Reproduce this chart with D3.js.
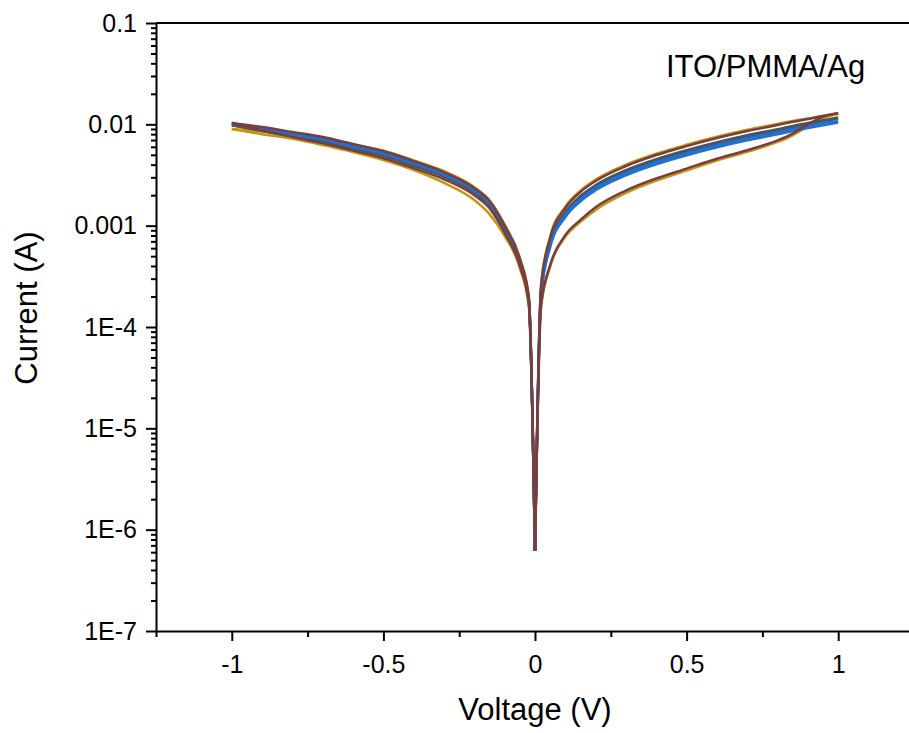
<!DOCTYPE html>
<html lang="en">
<head>
    <meta charset="UTF-8">
    <title>ITO/PMMA/Ag I-V</title>
    <script src="https://d3js.org/d3.v7.min.js"></script>
    <style>
        body { margin: 0; background: #fff; }
        svg { display: block; font-family: "Liberation Sans", Arial, sans-serif; }
        .axis path, .axis line { stroke: #000; stroke-width: 2; }
        .axis text { font-family: "Liberation Sans", Arial, sans-serif; font-size: 25px; fill: #000; }
    </style>
</head>
<body>
<svg id="chart" width="909" height="733"></svg>
<script>
    // voltage grids (V)
    const voltsPos = [0, 0.02, 0.05, 0.1, 0.15, 0.2, 0.3, 0.4, 0.5, 0.6, 0.7, 0.8, 0.85, 0.9, 0.95, 1];
    const voltsNeg = [0, -0.02, -0.05, -0.1, -0.15, -0.2, -0.3, -0.4, -0.5, -0.6, -0.7, -0.8, -0.9, -1];

    // |current| (A)
    const goldPosUp   = [6.2e-7, 2.6e-4, 7.8e-4, 1.54e-3, 2.22e-3, 2.85e-3, 4.0e-3, 5.13e-3, 6.28e-3, 7.54e-3, 8.85e-3, 1.01e-2, 1.08e-2, 1.14e-2, 1.21e-2, 1.27e-2];
    const goldPosDown = [6.2e-7, 1.57e-4, 3.92e-4, 7.75e-4, 1.09e-3, 1.43e-3, 2.1e-3, 2.78e-3, 3.5e-3, 4.4e-3, 5.35e-3, 6.7e-3, 7.8e-3, 9.6e-3, 1.15e-2, 1.27e-2];
    const grayPosUp   = [6.2e-7, 2.3e-4, 6.87e-4, 1.36e-3, 1.96e-3, 2.51e-3, 3.53e-3, 4.53e-3, 5.55e-3, 6.66e-3, 7.82e-3, 8.95e-3, 9.65e-3, 1.03e-2, 1.1e-2, 1.17e-2];
    const grayPosDown = [6.2e-7, 2.2e-4, 6.6e-4, 1.31e-3, 1.89e-3, 2.43e-3, 3.41e-3, 4.38e-3, 5.37e-3, 6.44e-3, 7.56e-3, 8.66e-3, 9.33e-3, 9.94e-3, 1.06e-2, 1.14e-2];
    const bluePosUp   = [6.2e-7, 2.15e-4, 6.4e-4, 1.27e-3, 1.83e-3, 2.35e-3, 3.3e-3, 4.23e-3, 5.19e-3, 6.22e-3, 7.3e-3, 8.36e-3, 9.0e-3, 9.6e-3, 1.03e-2, 1.07e-2];
    const bluePosDown = [6.2e-7, 2.05e-4, 6.1e-4, 1.21e-3, 1.74e-3, 2.24e-3, 3.14e-3, 4.03e-3, 4.94e-3, 5.93e-3, 6.96e-3, 7.97e-3, 8.6e-3, 9.2e-3, 9.8e-3, 1.04e-2];
    const brownPosUp   = [6.2e-7, 2.53e-4, 7.55e-4, 1.49e-3, 2.15e-3, 2.76e-3, 3.88e-3, 4.98e-3, 6.1e-3, 7.32e-3, 8.59e-3, 9.84e-3, 1.06e-2, 1.13e-2, 1.21e-2, 1.29e-2];
    const brownPosDown = [6.2e-7, 1.64e-4, 4.08e-4, 8.07e-4, 1.14e-3, 1.52e-3, 2.22e-3, 2.92e-3, 3.66e-3, 4.58e-3, 5.55e-3, 6.95e-3, 8.1e-3, 1.0e-2, 1.19e-2, 1.29e-2];

    const goldNegUp   = [6.2e-7, 1.95e-4, 4.8e-4, 1.02e-3, 1.78e-3, 2.4e-3, 3.45e-3, 4.4e-3, 5.5e-3, 6.3e-3, 7.2e-3, 7.9e-3, 8.5e-3, 9.0e-3];
    const goldNegDown = [6.2e-7, 1.54e-4, 3.81e-4, 7.9e-4, 1.3e-3, 1.79e-3, 2.64e-3, 3.54e-3, 4.44e-3, 5.33e-3, 6.25e-3, 7.2e-3, 8.0e-3, 9.0e-3];
    const grayNegUp   = [6.2e-7, 1.75e-4, 4.35e-4, 9.2e-4, 1.62e-3, 2.18e-3, 3.14e-3, 4.03e-3, 5.07e-3, 5.95e-3, 6.98e-3, 7.8e-3, 8.75e-3, 9.8e-3];
    const grayNegDown = [6.2e-7, 1.7e-4, 4.2e-4, 8.9e-4, 1.58e-3, 2.12e-3, 3.04e-3, 3.9e-3, 4.9e-3, 5.76e-3, 6.75e-3, 7.6e-3, 8.6e-3, 9.8e-3];
    const blueNegUp   = [6.2e-7, 1.82e-4, 4.5e-4, 9.6e-4, 1.68e-3, 2.26e-3, 3.24e-3, 4.17e-3, 5.23e-3, 6.14e-3, 7.2e-3, 8.06e-3, 9.0e-3, 1.03e-2];
    const blueNegDown = [6.2e-7, 1.78e-4, 4.4e-4, 9.4e-4, 1.65e-3, 2.21e-3, 3.18e-3, 4.08e-3, 5.12e-3, 6.0e-3, 7.05e-3, 7.9e-3, 8.85e-3, 1.02e-2];
    const brownNegUp   = [6.2e-7, 1.9e-4, 4.7e-4, 1.0e-3, 1.75e-3, 2.35e-3, 3.38e-3, 4.34e-3, 5.45e-3, 6.4e-3, 7.5e-3, 8.4e-3, 9.4e-3, 1.03e-2];
    const brownNegDown = [6.2e-7, 1.7e-4, 4.0e-4, 8.5e-4, 1.49e-3, 2.0e-3, 2.87e-3, 3.69e-3, 4.63e-3, 5.5e-3, 6.5e-3, 7.5e-3, 8.7e-3, 1.03e-2];

    // axis ticks
    const xMajor = [-1, -0.5, 0, 0.5, 1];
    const xLabels = ["-1", "-0.5", "0", "0.5", "1"];
    const xMinor = [-1.25, -0.75, -0.25, 0.25, 0.75, 1.25];
    const yMajor = [1e-7, 1e-6, 1e-5, 1e-4, 1e-3, 1e-2, 1e-1];
    const yLabels = ["1E-7", "1E-6", "1E-5", "1E-4", "0.001", "0.01", "0.1"];

    const sweeps = [
        { color: "#c8960e", pos: [goldPosUp, goldPosDown], neg: [goldNegUp, goldNegDown] },
        { color: "#4c5655", pos: [grayPosUp, grayPosDown], neg: [grayNegUp, grayNegDown] },
        { color: "#1f6fd4", pos: [bluePosUp, bluePosDown], neg: [blueNegUp, blueNegDown] },
        { color: "#7a3d3f", pos: [brownPosUp, brownPosDown], neg: [brownNegUp, brownNegDown] }
    ];

    const svg = d3.select("#chart");
    const plotLeft = 156, plotTop = 23, plotBottom = 631;

    const x = d3.scaleLinear().domain([-1.25, 1.25]).range([plotLeft, plotLeft + 758]);
    const y = d3.scaleLog().domain([1e-7, 0.1]).range([plotBottom, plotTop]);

    // minor ticks for log axis: 2..9 in each decade
    const yMinor = [];
    yMajor.slice(0, -1).forEach(d => {
        for (let k = 2; k <= 9; k++) yMinor.push(d * k);
    });

    // top frame line
    svg.append("line")
        .attr("x1", plotLeft).attr("x2", 909)
        .attr("y1", plotTop).attr("y2", plotTop)
        .attr("stroke", "#000").attr("stroke-width", 2);

    // curves
    const line = d3.line()
        .x(d => x(d[0]))
        .y(d => y(d[1]))
        .curve(d3.curveMonotoneX);

    const curves = svg.append("g");
    sweeps.forEach(s => {
        s.pos.forEach(arr => {
            curves.append("path")
                .attr("d", line(voltsPos.map((v, i) => [v, arr[i]])))
                .attr("fill", "none").attr("stroke", s.color)
                .attr("stroke-width", 2.5).attr("stroke-linejoin", "round");
        });
        s.neg.forEach(arr => {
            const pts = voltsNeg.map((v, i) => [v, arr[i]]).reverse();
            curves.append("path")
                .attr("d", line(pts))
                .attr("fill", "none").attr("stroke", s.color)
                .attr("stroke-width", 2.5).attr("stroke-linejoin", "round");
        });
    });

    // y axis
    const yAxis = svg.append("g").attr("class", "axis").attr("transform", `translate(${plotLeft},0)`);
    yAxis.call(d3.axisLeft(y).tickValues(yMajor).tickSize(10).tickSizeOuter(0)
        .tickFormat((d, i) => yLabels[i]).tickPadding(9));
    yAxis.append("g").call(d3.axisLeft(y).tickValues(yMinor).tickSize(5).tickFormat(""))
        .select(".domain").remove();

    // x axis
    const xAxis = svg.append("g").attr("class", "axis").attr("transform", `translate(0,${plotBottom})`);
    xAxis.call(d3.axisBottom(x).tickValues(xMajor).tickSize(10).tickSizeOuter(0)
        .tickFormat((d, i) => xLabels[i]).tickPadding(14));
    xAxis.append("g").call(d3.axisBottom(x).tickValues(xMinor).tickSize(6).tickFormat(""))
        .select(".domain").remove();

    // titles
    svg.append("text")
        .attr("x", 535).attr("y", 720)
        .attr("text-anchor", "middle")
        .attr("font-size", 31)
        .text("Voltage (V)");

    svg.append("text")
        .attr("transform", "translate(37,308) rotate(-90)")
        .attr("text-anchor", "middle")
        .attr("font-size", 31)
        .text("Current (A)");

    svg.append("text")
        .attr("x", 666).attr("y", 77)
        .attr("font-size", 31)
        .text("ITO/PMMA/Ag");
</script>
</body>
</html>
